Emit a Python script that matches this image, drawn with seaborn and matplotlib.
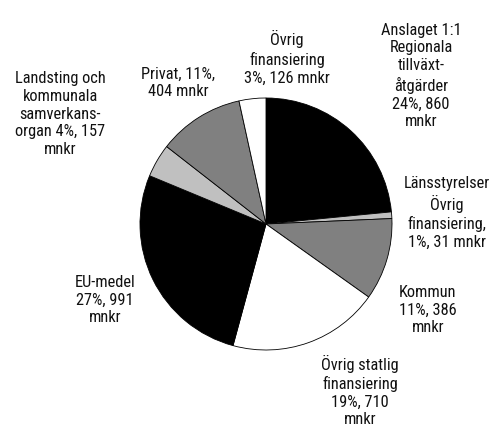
import matplotlib
matplotlib.use("Agg")
import matplotlib.pyplot as plt
import seaborn as sns

# Data (clockwise from 12 o'clock)
categories = ["Anslaget 1:1 Regionala tillväxtåtgärder", "Länsstyrelser Övrig finansiering",
              "Kommun", "Övrig statlig finansiering", "EU-medel",
              "Landsting och kommunala samverkansorgan", "Privat", "Övrig finansiering"]
values = [860, 31, 386, 710, 991, 157, 404, 126]
labels = [
    "Anslaget 1:1\nRegionala\ntillväxt-\nåtgärder\n24%, 860\nmnkr",
    "Länsstyrelser\nÖvrig\nfinansiering,\n1%, 31 mnkr",
    "Kommun\n11%, 386\nmnkr",
    "Övrig statlig\nfinansiering\n19%, 710\nmnkr",
    "EU-medel\n27%, 991\nmnkr",
    "Landsting och\nkommunala\nsamverkans-\norgan 4%, 157\nmnkr",
    "Privat, 11%,\n404 mnkr",
    "Övrig\nfinansiering\n3%, 126 mnkr",
]
colors = ["#000000", "#c0c0c0", "#808080", "#ffffff", "#000000", "#c0c0c0", "#808080", "#ffffff"]

# label positions in pixel space (x, y from top)
label_pos = [(421, 76), (447, 213), (428, 310), (360, 391), (105, 300), (60, 114), (178, 83), (287, 58)]

sns.set_theme(style="white")
plt.rcParams["font.family"] = ["Roboto Condensed", "DejaVu Sans"]

W, H = 493, 428
fig = plt.figure(figsize=(W / 100, H / 100), dpi=100)
ax = fig.add_axes([0, 0, 1, 1])
ax.pie(values, colors=colors, startangle=90, counterclock=False,
       center=(266, H - 224), radius=126,
       wedgeprops=dict(edgecolor="#000000", linewidth=0.6))
ax.set_xlim(0, W)
ax.set_ylim(0, H)
ax.set_aspect("equal")
ax.axis("off")

for lab, (x, y) in zip(labels, label_pos):
    ax.text(x, H - y, lab, ha="center", va="center", fontsize=11.8,
            linespacing=1.24, color="#111111", multialignment="center")

fig.savefig("out.png", dpi=100)
